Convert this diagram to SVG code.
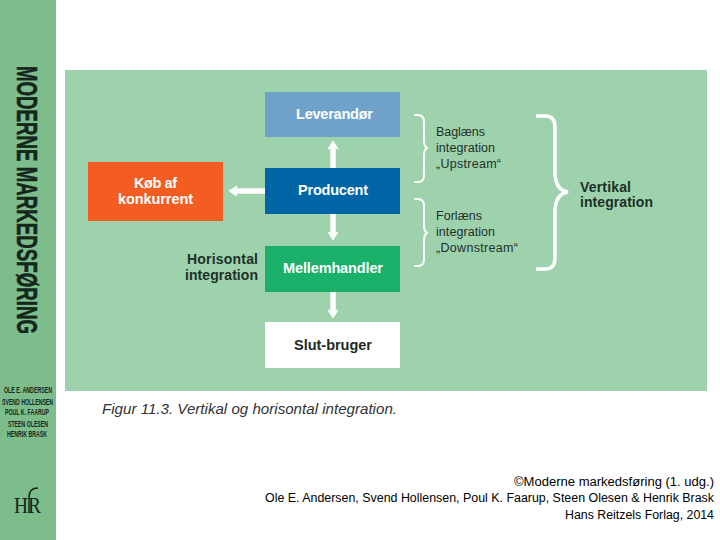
<svg xmlns="http://www.w3.org/2000/svg" width="720" height="540" viewBox="0 0 720 540">
<style>
text{font-family:"Liberation Sans",Arial,sans-serif}
.b{font-weight:bold;font-size:14.500px;fill:#fff}
.d{fill:#1d3029;font-size:12.500px}
.t{font-weight:bold;font-size:14px;fill:#1d3029}
.s{font-weight:bold;font-size:8.500px;fill:#14271d}
.f{font-size:12px;fill:#000;text-anchor:end}
.a{stroke:#fff;stroke-width:5.500;fill:none}
.h{fill:#fff;stroke:#fff;stroke-width:1;stroke-linejoin:round}
.br{fill:none;stroke:#fff}
</style>
<rect width="720" height="540" fill="#fff"/>
<g id="spine">
<rect width="56" height="540" fill="#7dbd8b"/>
<text transform="translate(16.500,66) rotate(90)" font-size="29" font-weight="bold" fill="#14271d" stroke="#14271d" stroke-width=".5" textLength="268" lengthAdjust="spacingAndGlyphs">MODERNE MARKEDSFØRING</text>
<text class="s" x="4" y="393" textLength="48" lengthAdjust="spacingAndGlyphs">OLE E. ANDERSEN</text>
<text class="s" x="2" y="405" textLength="51" lengthAdjust="spacingAndGlyphs">SVEND HOLLENSEN</text>
<text class="s" x="5" y="415" textLength="44" lengthAdjust="spacingAndGlyphs">POUL K. FAARUP</text>
<text class="s" x="8" y="427" textLength="40" lengthAdjust="spacingAndGlyphs">STEEN OLESEN</text>
<text class="s" x="7" y="437" textLength="40" lengthAdjust="spacingAndGlyphs">HENRIK BRASK</text>
<text x="14" y="513" font-size="24" fill="#14271d" style="font-family:'Liberation Serif',serif" textLength="27" lengthAdjust="spacingAndGlyphs">HR</text>
<path d="M29 513V497Q29 488 38 488" fill="none" stroke="#14271d" stroke-width="1.500"/>
</g>
<rect id="panel" x="65" y="70" width="642" height="321" fill="#9dd2ad"/>
<g id="connectors">
<path class="a" d="M333 168V146"/><path class="h" d="M333 141l5 8-5-2-5 2z"/>
<path class="a" d="M265 191H236"/><path class="h" d="M229 191l8-5-2 5 2 5z"/>
<path class="a" d="M333 214V234"/><path class="h" d="M333 240l5-8-5 2-5-2z"/>
<path class="a" d="M333 292V312"/><path class="h" d="M333 318l5-8-5 2-5-2z"/>
</g>
<g id="leverandor"><rect x="265" y="92" width="135" height="45" fill="#6ea2cb"/><text class="b" x="296" y="119" textLength="77">Leverandør</text></g>
<g id="producent"><rect x="265" y="168" width="135" height="46" fill="#0065a4"/><text class="b" x="298" y="195" textLength="70">Producent</text></g>
<g id="konkurrent"><rect x="88" y="162" width="135" height="59" fill="#f45d22"/><text class="b" x="134" y="188" textLength="43">Køb af</text><text class="b" x="118" y="204" textLength="75">konkurrent</text></g>
<g id="mellemhandler"><rect x="265" y="246" width="135" height="46" fill="#1ab06a"/><text class="b" x="283" y="273" textLength="100">Mellemhandler</text></g>
<g id="slutbruger"><rect x="265" y="322" width="135" height="46" fill="#fff"/><text class="b" x="294" y="350" textLength="78" style="fill:#1d2a25">Slut-bruger</text></g>
<g id="horisontal"><text class="t" x="187" y="264" textLength="71">Horisontal</text><text class="t" x="185" y="280" textLength="73">integration</text></g>
<g id="baglaens">
<path class="br" stroke-width="2" d="M414 115H418Q424 115 424 122V140Q424 148 428 148Q424 148 424 156V175Q424 182 418 182H414"/>
<text class="d" x="436" y="136" textLength="49">Baglæns</text><text class="d" x="436" y="152" textLength="59">integration</text><text class="d" x="436" y="168" textLength="65">„Upstream“</text>
</g>
<g id="forlaens">
<path class="br" stroke-width="2" d="M414 199H418Q424 199 424 206V225Q424 233 428 233Q424 233 424 241V259Q424 266 418 266H414"/>
<text class="d" x="436" y="220" textLength="46">Forlæns</text><text class="d" x="436" y="236" textLength="59">integration</text><text class="d" x="436" y="252" textLength="82">„Downstream“</text>
</g>
<g id="vertikal">
<path class="br" stroke-width="3.500" d="M536 116H545Q555 116 555 127V172Q555 190 568 192Q555 194 555 212V258Q555 269 545 269H536"/>
<text class="t" x="580" y="192" textLength="51">Vertikal</text><text class="t" x="580" y="207" textLength="73">integration</text>
</g>
<text id="caption" x="102" y="414" font-size="14" font-style="italic" fill="#333" textLength="295" lengthAdjust="spacingAndGlyphs">Figur 11.3. Vertikal og horisontal integration.</text>
<g id="credit">
<text class="f" x="714" y="486" textLength="200" lengthAdjust="spacingAndGlyphs">©Moderne markedsføring (1. udg.)</text>
<text class="f" x="714" y="502" textLength="449" lengthAdjust="spacingAndGlyphs">Ole E. Andersen, Svend Hollensen, Poul K. Faarup, Steen Olesen &amp; Henrik Brask</text>
<text class="f" x="714" y="519" textLength="149" lengthAdjust="spacingAndGlyphs">Hans Reitzels Forlag, 2014</text>
</g>
</svg>
